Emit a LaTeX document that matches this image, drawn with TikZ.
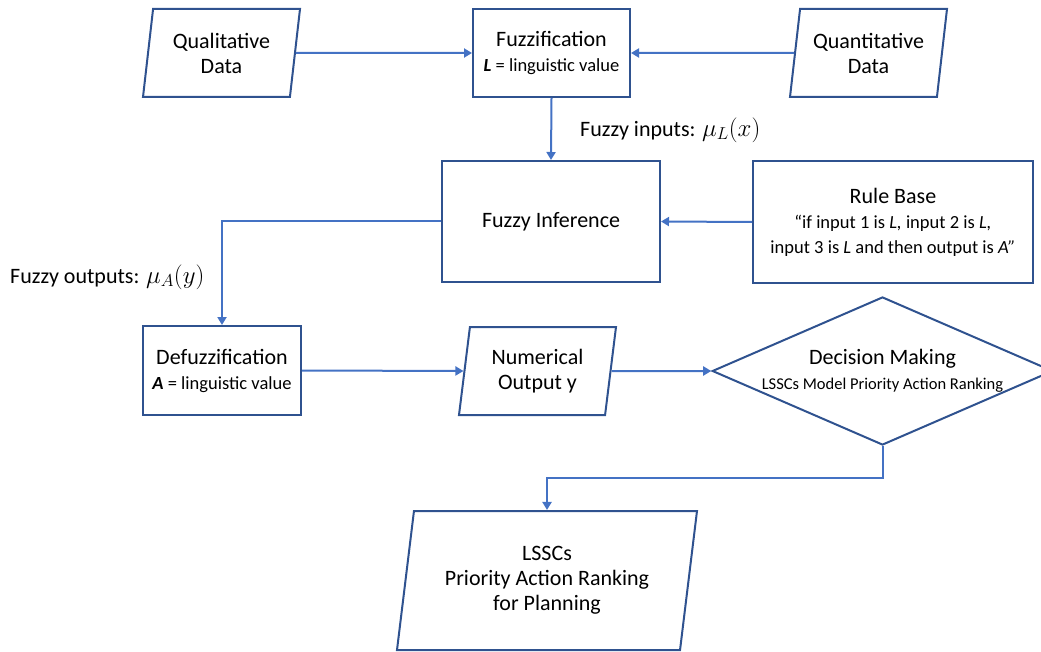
\documentclass[tikz,border=0pt]{standalone}
\usepackage{fontspec}
\setmainfont{Carlito}
\usetikzlibrary{shapes.geometric,arrows.meta}
\definecolor{boxblue}{HTML}{2F528F}
\definecolor{arrowblue}{HTML}{4472C4}
\newcommand\boxfont{\fontsize{22}{25}\selectfont}
\newcommand\notefont{\fontsize{18.5}{23}\selectfont}
\newcommand\dmfont{\fontsize{16.5}{21}\selectfont}
\tikzset{
	block/.style={draw=boxblue, line width=2pt, rectangle, align=center, inner sep=0pt, font=\boxfont},
	datablock/.style={draw=boxblue, line width=2pt, trapezium, trapezium left angle=76, trapezium right angle=104, trapezium stretches body, align=center, inner sep=0pt, font=\boxfont},
	decision/.style={draw=boxblue, line width=2pt, diamond, aspect=2.3, align=center, inner sep=0pt, font=\boxfont},
	flow/.style={draw=arrowblue, line width=2pt, -{Triangle[width=9pt,length=8pt]}},
	note/.style={anchor=west, inner sep=0pt, font=\boxfont}
}

\begin{document}
\begin{tikzpicture}
			\def \hor{ 1pt }
			\def \ver{ 1pt }
			\useasboundingbox (0,0) rectangle (1041*\hor,-652*\ver);
			% top row
			\node[datablock, minimum width=157pt, minimum height=88pt] (qual) at (221.5*\hor,-53*\ver) {Qualitative\\Data};
			\node[block, minimum width=157pt, minimum height=88pt] (fuzz) at (551.5*\hor,-53*\ver) {Fuzzification\\{\notefont\textbf{\textit{L}} = linguistic value}};
			\node[datablock, minimum width=157pt, minimum height=88pt] (quant) at (868.5*\hor,-53*\ver) {Quantitative\\Data};
			% middle row
			\node[block, minimum width=218pt, minimum height=121pt] (infer) at (551*\hor,-221.5*\ver) {Fuzzy Inference};
			\node[block, minimum width=280pt, minimum height=122pt] (rule) at (893*\hor,-222*\ver) {Rule Base\\{\notefont ``if input 1 is \textit{L,} input 2 is \textit{L,}}\\{\notefont input 3 is \textit{L} and then output is \textit{A''}}};
			% lower rows
			\node[block, minimum width=158pt, minimum height=89pt] (defuzz) at (222*\hor,-370.5*\ver) {Defuzzification\\{\notefont\textbf{\textit{A}} = linguistic value}};
			\node[datablock, minimum width=157pt, minimum height=88pt] (numer) at (537.5*\hor,-371*\ver) {Numerical\\Output y};
			\node[decision, minimum width=339pt, minimum height=147pt] (dm) at (882.5*\hor,-371*\ver) {Decision Making\\{\dmfont LSSCs Model Priority Action Ranking}};
			\node[datablock, minimum width=300pt, minimum height=139pt] (lssc) at (547*\hor,-580.5*\ver) {LSSCs\\Priority Action Ranking\\for Planning};
			% labels
			\node[note] (inlab) at (580*\hor,-130*\ver) {Fuzzy inputs: {\fontsize{26}{30}\selectfont$\mu_L(x)$}};
			\node[note] (outlab) at (10*\hor,-277*\ver) {Fuzzy outputs: {\fontsize{26}{30}\selectfont$\mu_A(y)$}};
			% connectors
			\draw[flow] (qual.east) -- (fuzz.west);
			\draw[flow] (quant.west) -- (fuzz.east);
			\draw[flow] (fuzz.south) -- (infer.north);
			\draw[flow] (rule.west) -- (infer.east);
			\draw[flow] (infer.west) -| (defuzz.north);
			\draw[flow] (defuzz.east) -- (numer.west);
			\draw[flow] (numer.east) -- (dm.west);
			\draw[flow] (dm.south) -- ++(0,-32*\ver) -| (lssc.north);
		\end{tikzpicture}
\end{document}
